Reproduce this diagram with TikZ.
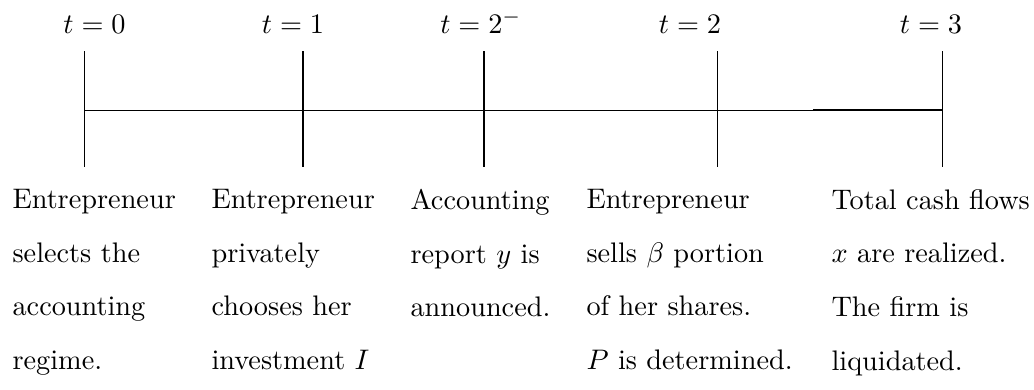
\documentclass[tikz,border=0pt]{standalone}
\usepackage{amsmath}
\usepackage{amssymb}
\usetikzlibrary{positioning}

\begin{document}
\begin{tikzpicture}[
  event/.style={anchor=north west, inner sep=0pt, align=left,
                font=\fontsize{10}{19}\selectfont},
  stamp/.style={anchor=base, inner sep=0pt},
]
  \useasboundingbox (0,0) rectangle (12.85,4.835);
  \foreach \x/\i in {1.05/0, 3.765/1, 6.015/2, 8.916/3, 11.712/4}{
    \coordinate (top\i) at (\x, 4.2);
    \coordinate (mid\i) at (\x, 3.467);
    \coordinate (bot\i) at (\x, 2.759);
    \draw (top\i) -- (bot\i);
  }
  \foreach \x/\lab/\i in {1.174/0/0, 3.641/1/1, 5.977/2^-/2, 8.575/2/3, 11.57/3/4}{
    \node[stamp] (lab\i) at (\x, 4.424) {$t=\lab$};
  }
  \draw (mid0) -- (mid4);
  \coordinate (dark) at (10.103, 3.467);
  \draw[line width=0.6pt] (dark) -- (mid4);

  \node[event] (ev0) at (0.149, 2.49)
    {Entrepreneur\\selects the\\accounting\\regime.};
  \node[event] (ev1) at (2.622, 2.49)
    {Entrepreneur\\privately\\chooses her\\investment $I$};
  \node[event] (ev2) at (5.095, 2.49)
    {Accounting\\report $y$ is\\announced.};
  \node[event] (ev3) at (7.282, 2.49)
    {Entrepreneur\\sells $\beta$ portion\\of her shares.\\$P$ is determined.};
  \node[event] (ev4) at (10.327, 2.49)
    {Total cash flows\\$x$ are realized.\\The firm is\\liquidated.};
\end{tikzpicture}
\end{document}
